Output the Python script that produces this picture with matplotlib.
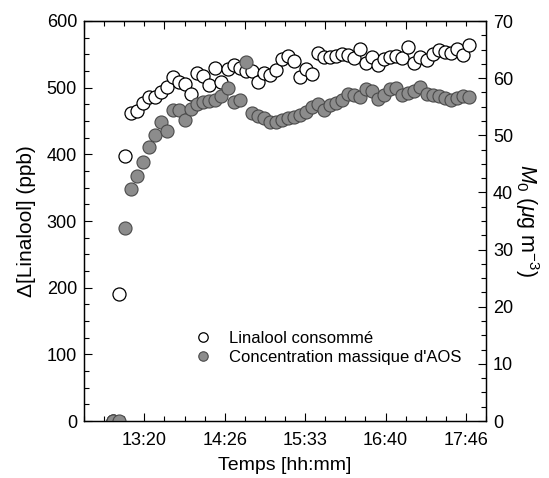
import matplotlib
matplotlib.use("Agg")
import matplotlib.pyplot as plt
from matplotlib.ticker import FixedLocator, NullFormatter
from matplotlib.lines import Line2D

plt.rcParams['font.family'] = ['Liberation Sans', 'DejaVu Sans']
plt.rcParams['mathtext.fontset'] = 'custom'
plt.rcParams['mathtext.rm'] = 'Liberation Sans'
plt.rcParams['mathtext.it'] = 'Liberation Sans:italic'

# ---- data ----
times = ["12:54", "12:59", "13:04", "13:09", "13:14", "13:19", "13:24", "13:29", "13:34", "13:39",
         "13:44", "13:49", "13:54", "13:59", "14:04", "14:09", "14:14", "14:19", "14:24", "14:29",
         "14:34", "14:39", "14:44", "14:49", "14:54", "14:59", "15:04", "15:09", "15:14", "15:19",
         "15:24", "15:29", "15:34", "15:39", "15:44", "15:49", "15:54", "15:59", "16:04", "16:09",
         "16:14", "16:19", "16:24", "16:29", "16:34", "16:39", "16:44", "16:49", "16:54", "16:59",
         "17:04", "17:09", "17:14", "17:19", "17:24", "17:29", "17:34", "17:39", "17:44", "17:49"]

linalool_ppb = [0, 190.5, 398, 461.5, 465.5, 476.5, 486.5, 485.5, 494, 500.5,
                515.5, 509, 505.5, 490.5, 522.5, 517.5, 504, 529, 509, 528,
                534, 529, 525, 525.5, 509, 522.5, 519, 526.5, 542.5, 548,
                540, 516, 528, 521, 551.5, 546.5, 545.5, 547.5, 550.5, 549,
                544, 557.5, 537.5, 546.5, 534, 542.5, 545.5, 547.5, 544, 561.5,
                537.5, 545.5, 541.5, 550.5, 556.5, 554, 552.5, 557.5, 549, 564]

aos_mass = [0, 0, 33.7, 40.6, 42.8, 45.4, 48.0, 50.0, 52.4, 50.7,
            54.5, 54.4, 52.7, 54.6, 55.4, 55.9, 56.0, 56.1, 56.9, 58.2,
            55.9, 56.2, 62.9, 53.9, 53.3, 53.1, 52.3, 52.3, 52.6, 53.0,
            53.2, 53.5, 54.1, 55.0, 55.4, 54.4, 55.3, 55.6, 56.2, 57.3,
            57.1, 56.7, 58.1, 57.7, 56.4, 57.05, 58.05, 58.2, 57.05, 57.35,
            57.8, 58.4, 57.2, 57.05, 56.9, 56.5, 56.2, 56.6, 56.9, 56.75]

xtick_labels = ["13:20", "14:26", "15:33", "16:40", "17:46"]
series_labels = ["Linalool consommé", "Concentration massique d'AOS"]


def to_min(s):
    h, m = s.split(":")
    return (int(h) - 12) * 60 + int(m)


x = [to_min(t) for t in times]

# ---- figure ----
fig = plt.figure(figsize=(5.49, 4.78), dpi=100)
ax = fig.add_axes([84 / 549, 57 / 478, 402 / 549, 400 / 478])
ax2 = ax.twinx()

ax.plot(x, linalool_ppb, linestyle='none', marker='o', markersize=9.4,
        markerfacecolor='white', markeredgecolor='black', markeredgewidth=0.9)
ax2.plot(x, aos_mass, linestyle='none', marker='o', markersize=9.4,
         markerfacecolor='#8c8c8c', markeredgecolor='#4a4a4a', markeredgewidth=0.8)

x0, step = 30.0, 200.0 / 3.0
ax.set_xlim(x0, x0 + 5 * step)
ax.set_ylim(0, 600)
ax2.set_ylim(0, 70)

bottom_major = [80 + k * step for k in range(5)]
minor = [x0 + k * step / 4 for k in range(21)]
ax.xaxis.set_major_locator(FixedLocator(bottom_major))
ax.set_xticklabels(xtick_labels)
ax.xaxis.set_minor_locator(FixedLocator(minor))

ax.yaxis.set_major_locator(FixedLocator(list(range(0, 601, 100))))
ax.yaxis.set_minor_locator(FixedLocator([v * 25 for v in range(25)]))
ax2.yaxis.set_major_locator(FixedLocator(list(range(0, 71, 10))))
ax2.yaxis.set_minor_locator(FixedLocator([v * 2.5 for v in range(29)]))

top = ax.secondary_xaxis('top')
top.xaxis.set_major_locator(FixedLocator([x0 + k * step for k in range(6)]))
top.xaxis.set_minor_locator(FixedLocator(minor))
top.xaxis.set_major_formatter(NullFormatter())
top.tick_params(which='major', direction='in', length=6, width=0.8)
top.tick_params(which='minor', direction='in', length=3.5, width=0.8)

for a in (ax, ax2):
    a.tick_params(which='major', direction='in', length=6, width=0.8, labelsize=13, pad=5)
    a.tick_params(which='minor', direction='in', length=3.5, width=0.8)
    for sp in a.spines.values():
        sp.set_linewidth(0.9)
ax.tick_params(axis='x', which='both', top=False)
ax.tick_params(axis='x', which='major', pad=8)

ax.set_xlabel("Temps [hh:mm]", fontsize=14, labelpad=6)
ax.set_ylabel("Δ[Linalool] (ppb)", fontsize=15, labelpad=8)
ax2.set_ylabel(r"$M_0$ ($\mu$g m$^{-3}$)", fontsize=15.5, rotation=270, labelpad=20)

handles = [
    Line2D([], [], linestyle='none', marker='o', markersize=6.8,
           markerfacecolor='white', markeredgecolor='black', markeredgewidth=0.9),
    Line2D([], [], linestyle='none', marker='o', markersize=6.8,
           markerfacecolor='#8c8c8c', markeredgecolor='#4a4a4a', markeredgewidth=0.8),
]
ax2.legend(handles, series_labels, loc='upper left',
           bbox_to_anchor=((194.6 - 84) / 402, (421 - 331.2) / 400),
           frameon=False, fontsize=12, handletextpad=1.08, labelspacing=0.2,
           handlelength=1.0, borderaxespad=0, borderpad=0)

fig.savefig("out.png", dpi=100)
